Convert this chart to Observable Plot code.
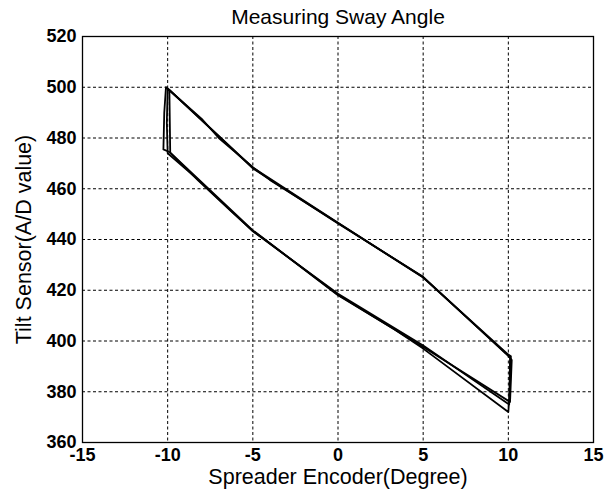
<!DOCTYPE html>
<html>
<head>
<meta charset="utf-8">
<script src="https://cdn.jsdelivr.net/npm/d3@7"></script>
<script src="https://cdn.jsdelivr.net/npm/@observablehq/plot@0.6"></script>
<style>
  html, body { margin: 0; padding: 0; background: #fff; }
  #chart svg { display: block; }
</style>
</head>
<body>
<div id="chart"></div>
<script>
// Tick values
const xTicks = [-15, -10, -5, 0, 5, 10, 15];
const yTicks = [360, 380, 400, 420, 440, 460, 480, 500, 520];

// Hysteresis loop traces (Spreader Encoder in degrees, Tilt Sensor A/D value)
const encoderA = [-10.1, -8, -7, -5, -4, 0, 5, 9.8, 10.15, 10.1, 10.0, 5, 3.3, 0, -4.3, -5, -6.3, -8.2, -9.9, -10.25, -10.2, -10.1];
const tiltA    = [500, 487.5, 480, 468.5, 463.5, 446.5, 425, 395.5, 394, 382, 372, 397, 404.6, 418, 440, 443.4, 451.3, 463.2, 474.5, 475.5, 490, 500];

const encoderB = [-10.0, -8, -5, 0, 5, 9.85, 10.1, 10.05, 5, 0, -5, -8.2, -10.0, -10.05, -10.0];
const tiltB    = [499.5, 487, 468, 446.3, 425.3, 395, 393.5, 375, 398.2, 418.6, 443.2, 463.5, 474, 486, 499.5];

const encoderC = [-9.9, -5, 0, 5, 9.9, 10.2, 10.1, 5, 0, -5, -9.85, -9.9];
const tiltC    = [499, 468.3, 446.6, 425.1, 395.2, 392.5, 376, 397.6, 418.2, 443.6, 474.2, 499];

const traces = [
  {name: "A", x: encoderA, y: tiltA},
  {name: "B", x: encoderB, y: tiltB},
  {name: "C", x: encoderC, y: tiltC}
];
const points = traces.flatMap(t => t.x.map((x, i) => ({trace: t.name, x, y: t.y[i]})));

const fontFamily = "'Liberation Sans', Arial, Helvetica, sans-serif";

const chart = Plot.plot({
  width: 614,
  height: 492,
  marginLeft: 82,
  marginRight: 21,
  marginTop: 36,
  marginBottom: 50,
  style: {fontFamily, color: "black", background: "white"},
  x: {domain: [-15, 15]},
  y: {domain: [360, 520]},
  marks: [
    Plot.ruleX(xTicks.slice(1, -1), {stroke: "black", strokeWidth: 1, strokeDasharray: "3,2.5"}),
    Plot.ruleY(yTicks.slice(1, -1), {stroke: "black", strokeWidth: 1, strokeDasharray: "3,2.5"}),
    Plot.line(points, {x: "x", y: "y", z: "trace", stroke: "black", strokeWidth: 1.8, curve: "linear"}),
    Plot.frame({stroke: "black", strokeWidth: 1.3}),
    Plot.axisX({ticks: xTicks, tickSize: 0, tickPadding: 6, fontSize: 18, fontWeight: "bold", tickFormat: d => String(d), label: null}),
    Plot.axisY({ticks: yTicks, tickSize: 0, tickPadding: 6, fontSize: 18, fontWeight: "bold", tickFormat: d => String(d), label: null}),
    Plot.text(["Measuring Sway Angle"], {frameAnchor: "top", lineAnchor: "middle", dy: -19, fontSize: 21, fill: "black"}),
    Plot.text(["Spreader Encoder(Degree)"], {frameAnchor: "bottom", lineAnchor: "middle", dy: 35, fontSize: 21.5, fill: "black"}),
    Plot.text(["Tilt Sensor(A/D value)"], {frameAnchor: "left", textAnchor: "middle", dx: -58, rotate: -90, fontSize: 21.5, fill: "black"})
  ]
});
document.getElementById("chart").appendChild(chart);
</script>
</body>
</html>
